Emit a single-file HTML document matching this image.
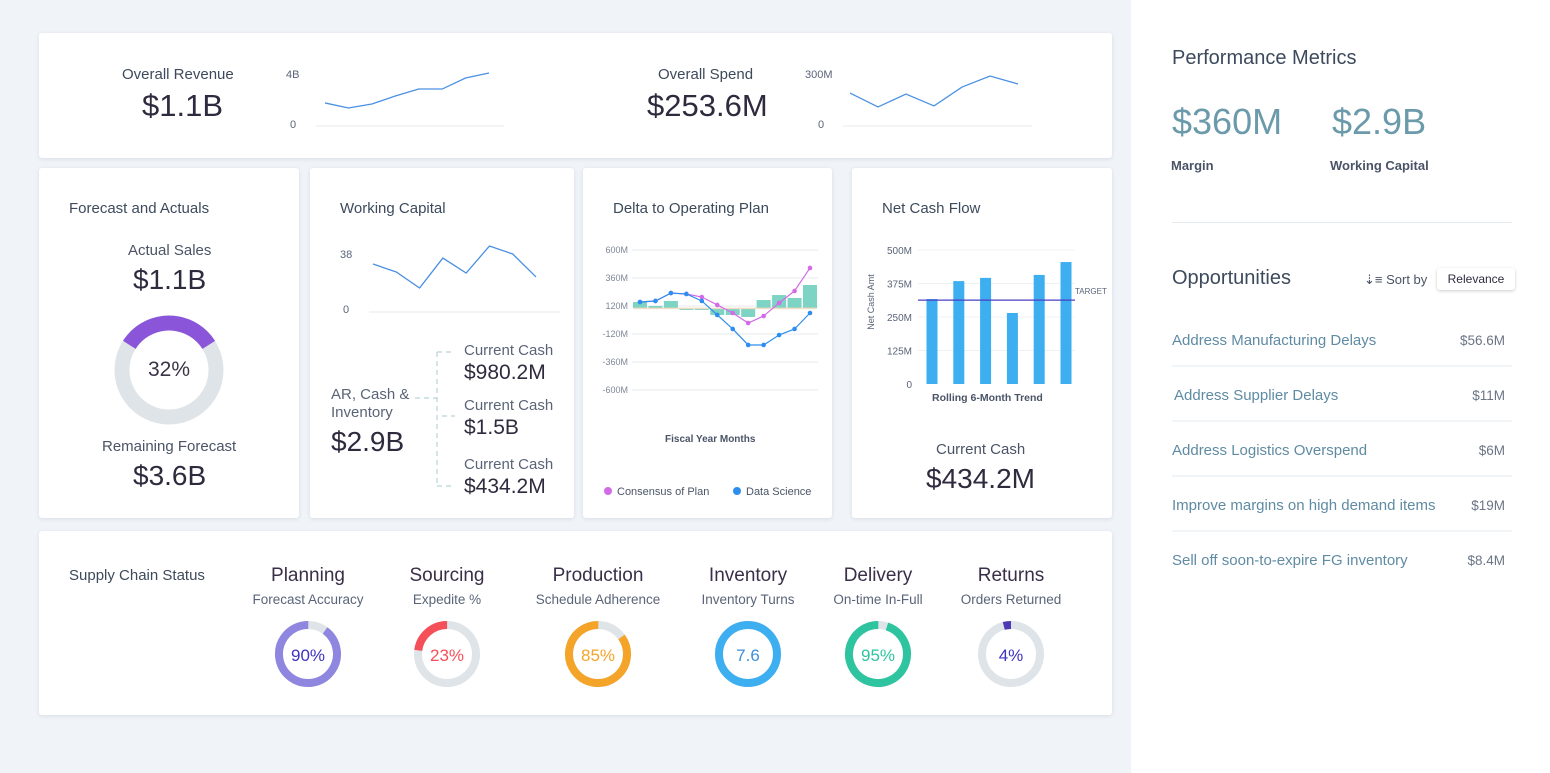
<!DOCTYPE html>
<html><head><meta charset="utf-8">
<style>
body{margin:0;width:1550px;height:773px;background:#f0f4f8;font-family:"Liberation Sans",sans-serif;position:relative;overflow:hidden}
.card{position:absolute;background:#fff;border-radius:3px;box-shadow:0 1px 4px rgba(40,60,90,.12)}
.t{position:absolute;white-space:nowrap}
svg{position:absolute;left:0;top:0}
</style></head><body>
<div class="card" style="left:39px;top:33px;width:1073px;height:125px"></div>
<div class="card" style="left:39px;top:168px;width:260px;height:350px"></div>
<div class="card" style="left:310px;top:168px;width:264px;height:350px"></div>
<div class="card" style="left:583px;top:168px;width:249px;height:350px"></div>
<div class="card" style="left:852px;top:168px;width:260px;height:350px"></div>
<div class="card" style="left:39px;top:531px;width:1073px;height:184px"></div>
<div style="position:absolute;left:1131px;top:0;width:419px;height:773px;background:#fff"></div>

<div class="t" style="left:122px;top:66px;font-size:15px;color:#3d4a5c">Overall Revenue</div>
<div class="t" style="left:142px;top:88px;font-size:31px;color:#2f2a3e">$1.1B</div>
<div class="t" style="left:658px;top:66px;font-size:15px;color:#3d4a5c">Overall Spend</div>
<div class="t" style="left:647px;top:88px;font-size:31px;color:#2f2a3e">$253.6M</div>

<div class="t" style="left:69px;top:200px;font-size:15px;color:#3d4a5c">Forecast and Actuals</div>
<div class="t" style="left:128px;top:242px;font-size:15px;color:#4a5466">Actual Sales</div>
<div class="t" style="left:133px;top:264px;font-size:28px;color:#2f2a3e">$1.1B</div>
<div class="t" style="left:148px;top:358px;font-size:21px;color:#3a3446">32%</div>
<div class="t" style="left:102px;top:438px;font-size:15px;color:#4a5466">Remaining Forecast</div>
<div class="t" style="left:133px;top:460px;font-size:28px;color:#2f2a3e">$3.6B</div>

<div class="t" style="left:340px;top:200px;font-size:15px;color:#3d4a5c">Working Capital</div>
<div class="t" style="left:331px;top:386px;font-size:15px;color:#5a6478;line-height:18px">AR, Cash &amp;<br>Inventory</div>
<div class="t" style="left:331px;top:426px;font-size:28px;color:#2f2a3e">$2.9B</div>
<div class="t" style="left:464px;top:342px;font-size:15px;color:#5a6478">Current Cash</div>
<div class="t" style="left:464px;top:361px;font-size:21px;color:#2f2a3e">$980.2M</div>
<div class="t" style="left:464px;top:397px;font-size:15px;color:#5a6478">Current Cash</div>
<div class="t" style="left:464px;top:416px;font-size:21px;color:#2f2a3e">$1.5B</div>
<div class="t" style="left:464px;top:456px;font-size:15px;color:#5a6478">Current Cash</div>
<div class="t" style="left:464px;top:475px;font-size:21px;color:#2f2a3e">$434.2M</div>

<div class="t" style="left:613px;top:200px;font-size:15px;color:#3d4a5c">Delta to Operating Plan</div>
<div class="t" style="left:665px;top:434px;font-size:10px;font-weight:bold;color:#4a5466">Fiscal Year Months</div>
<div class="t" style="left:604px;top:486px;font-size:11px;color:#4a5466"><span style="display:inline-block;width:8px;height:8px;border-radius:4px;background:#d36ae8;margin-right:5px"></span>Consensus of Plan</div>
<div class="t" style="left:733px;top:486px;font-size:11px;color:#4a5466"><span style="display:inline-block;width:8px;height:8px;border-radius:4px;background:#2d8ef0;margin-right:5px"></span>Data Science</div>

<div class="t" style="left:882px;top:200px;font-size:15px;color:#3d4a5c">Net Cash Flow</div>
<div class="t" style="left:932px;top:392px;font-size:10.5px;font-weight:bold;color:#4a5466">Rolling 6-Month Trend</div>
<div class="t" style="left:936px;top:441px;font-size:15px;color:#4a5466">Current Cash</div>
<div class="t" style="left:926px;top:463px;font-size:28px;color:#2f2a3e">$434.2M</div>

<div class="t" style="left:69px;top:567px;font-size:15px;color:#3d4a5c">Supply Chain Status</div>

<div class="t" style="left:1172px;top:47px;font-size:20px;color:#3d4a5c">Performance Metrics</div>
<div class="t" style="left:1172px;top:101px;font-size:36px;color:#6b9aaa">$360M</div>
<div class="t" style="left:1171px;top:158px;font-size:13px;font-weight:bold;color:#4a5466">Margin</div>
<div class="t" style="left:1332px;top:101px;font-size:36px;color:#6b9aaa">$2.9B</div>
<div class="t" style="left:1330px;top:158px;font-size:13px;font-weight:bold;color:#4a5466">Working Capital</div>
<div style="position:absolute;left:1172px;top:222px;width:340px;height:1px;background:#e6ebf0"></div>
<div class="t" style="left:1172px;top:267px;font-size:20px;color:#3d4a5c">Opportunities</div>
<div class="t" style="left:1364px;top:272px;font-size:13px;color:#4a5466">⇣≡ Sort by</div>
<div class="t" style="left:1437px;top:268px;width:78px;height:22px;line-height:22px;text-align:center;font-size:12px;color:#2f2a3e;background:#fff;border-radius:3px;box-shadow:0 1px 3px rgba(0,0,0,.2)">Relevance</div>

<svg width="1550" height="773" id="s"></svg>
<script>
// sparkline data
const revValues=[1.74,1.36,1.66,2.26,2.79,2.79,3.62,4.0];
const spendValues=[194,112,188,118,229,294,247];
const wcValues=[31.3,26,15.3,35.3,25.3,43.3,38,22.7];
// delta chart
const deltaTicks=["600M","360M","120M","-120M","-360M","-600M"];
const deltaTickVals=[600,360,120,-120,-360,-600];
const deltaBars=[154,120,163,86,86,43,43,26,171,214,189,300];
const dataScience=[154,163,231,223,163,43,-77,-214,-214,-129,-77,60];
const consensus=[154,163,231,223,197,129,60,-26,34,146,249,446];
// net cash flow
const ncfTicks=["500M","375M","250M","125M","0"];
const ncfTickVals=[500,375,250,125,0];
const ncfValues=[317,384,396,265,407,455];
const ncfTarget=313;
// gauges
const gaugeTitles=["Planning","Sourcing","Production","Inventory","Delivery","Returns"];
const gaugeSubs=["Forecast Accuracy","Expedite %","Schedule Adherence","Inventory Turns","On-time In-Full","Orders Returned"];
const gaugeLabels=["90%","23%","85%","7.6","95%","4%"];
const gaugePct=[90,23,85,100,95,4];
const forecastPct=32;
// opportunities
const oppNames=["Address Manufacturing Delays","Address Supplier Delays","Address Logistics Overspend","Improve margins on high demand items","Sell off soon-to-expire FG inventory"];
const oppValues=["$56.6M","$11M","$6M","$19M","$8.4M"];

const NS="http://www.w3.org/2000/svg";
const s=document.getElementById('s');
function el(tag,attrs,parent){const e=document.createElementNS(NS,tag);for(const k in attrs)e.setAttribute(k,attrs[k]);(parent||s).appendChild(e);return e;}
function txt(x,y,str,attrs){const e=el('text',Object.assign({x:x,y:y,'font-family':'Liberation Sans, sans-serif'},attrs));e.textContent=str;return e;}

function spark(vals,x0,x1,y0,y1,vmax,name){
  const pts=vals.map((v,i)=>[x0+i*(x1-x0)/(vals.length-1),y0-(v/vmax)*(y0-y1)]);
  const p=el('polyline',{points:pts.map(q=>q.join(',')).join(' '),fill:'none',stroke:'#4a90e2','stroke-width':1.3});
  
  
}
// revenue
el('line',{x1:316,y1:126,x2:504,y2:126,stroke:'#e6e9ee'});
txt(286,78,"4B",{'font-size':11,fill:'#5a6478'});txt(290,128,"0",{'font-size':11,fill:'#5a6478'});
spark(revValues,325,489,126,73,4,'revenue-sparkline');
el('line',{x1:843,y1:126,x2:1032,y2:126,stroke:'#e6e9ee'});
txt(805,78,"300M",{'font-size':11,fill:'#5a6478'});txt(818,128,"0",{'font-size':11,fill:'#5a6478'});
spark(spendValues,850,1018,126,75,300,'spend-sparkline');
el('line',{x1:369,y1:312,x2:560,y2:312,stroke:'#e6e9ee'});
txt(340,258,"38",{'font-size':11,fill:'#5a6478'});txt(343,313,"0",{'font-size':11,fill:'#5a6478'});
spark(wcValues,373,536,311,254,38,'wc-sparkline');

// tree connector
const dash={fill:'none',stroke:'#b9d3d6','stroke-width':1.2,'stroke-dasharray':'5,4'};
el('path',Object.assign({d:'M415 398 H437 M437 352 V486 M437 352 H452 M437 486 H452 M442 416 H455'},dash));

// forecast donut
function arcDonut(cx,cy,r,w,pct,color,mode,name){
  const c=2*Math.PI*r;
  el('circle',{cx:cx,cy:cy,r:r,fill:'none',stroke:'#dfe4e8','stroke-width':w});
  const len=c*pct/100;
  let rot;
  if(mode==='center') rot=-90-pct*3.6/2; else rot=-90-pct*3.6;
  const a=el('circle',{cx:cx,cy:cy,r:r,fill:'none',stroke:color,'stroke-width':w,'stroke-dasharray':len+' '+c,transform:'rotate('+rot+' '+cx+' '+cy+')'});
  
  
}
arcDonut(169,370,47,15,forecastPct,'#8a55d8','center','forecast-donut-arc');

// delta chart
const dY=v=>320-v*140/1200;
const dX=i=>640+i*(810-640)/11;
deltaTickVals.forEach((v,i)=>{el('line',{x1:632,y1:dY(v),x2:818,y2:dY(v),stroke:'#e6e9ee'});txt(628,dY(v)+3,deltaTicks[i],{'font-size':9,fill:'#7d8696','text-anchor':'end'});});
const base=100;
deltaBars.forEach((v,i)=>{const y1=dY(Math.max(v,base)),y2=dY(Math.min(v,base));const r=el('rect',{x:dX(i)-7,y:y1,width:14,height:Math.max(1,y2-y1),fill:'#7dd3c4'});});
el('line',{x1:634,y1:dY(base),x2:816,y2:dY(base),stroke:'#f0dcc0','stroke-width':1.5});
function series(vals,color,name){
  const p=el('polyline',{points:vals.map((v,i)=>dX(i)+','+dY(v)).join(' '),fill:'none',stroke:color,'stroke-width':1.2});
  
  vals.forEach((v,i)=>{const c=el('circle',{cx:dX(i),cy:dY(v),r:2.3,fill:color});});
}
series(consensus,'#d36ae8','consensus-line');
series(dataScience,'#2d8ef0','data-science-line');

// net cash flow
const nY=v=>384-v*134/500;
const nX=i=>932+i*(1066-932)/5;
ncfTickVals.forEach((v,i)=>{if(v>0)el('line',{x1:918,y1:nY(v),x2:1075,y2:nY(v),stroke:'#eef1f4'});txt(912,nY(v)+4,ncfTicks[i],{'font-size':10,fill:'#5a6478','text-anchor':'end'});});
ncfValues.forEach((v,i)=>{const r=el('rect',{x:nX(i)-5.5,y:nY(v),width:11,height:nY(0)-nY(v),fill:'#3daef0'});});
el('line',{x1:918,y1:nY(ncfTarget),x2:1075,y2:nY(ncfTarget),stroke:'#4b3fc4','stroke-width':1.2});
txt(1075,nY(ncfTarget)-6,"TARGET",{'font-size':8,fill:'#5a6478'});
txt(0,0,"Net Cash Amt",{'font-size':9,fill:'#5a6478','text-anchor':'middle',transform:'translate(874 302) rotate(-90)'});

// gauges
const gX=[308,447,598,748,878,1011];
const gColors=['#8f86e0','#f5505a','#f5a42a','#3daef0','#2ec4a0','#4b38b5'];
const gText=['#3d33c0','#f5505a','#f5a42a','#3d8fd8','#2ec4a0','#3d33c0'];
gaugePct.forEach((p,i)=>{
  txt(gX[i],581,gaugeTitles[i],{'font-size':19,fill:'#3a2f48','text-anchor':'middle'});
  txt(gX[i],604,gaugeSubs[i],{'font-size':13.5,fill:'#5a6478','text-anchor':'middle'});
  arcDonut(gX[i],654,29,8,p,gColors[i],'ccw','gauge-'+gaugeTitles[i].toLowerCase());
  txt(gX[i],661,gaugeLabels[i],{'font-size':17,fill:gText[i],'text-anchor':'middle'});
});

// opportunities
oppNames.forEach((n,i)=>{
  const y=345+i*55;
  const t=txt(i==1?1174:1172,y,n,{'font-size':15,fill:'#5f8ba3'});
  
  txt(1505,y,oppValues[i],{'font-size':13.5,fill:'#6b7585','text-anchor':'end'});
  if(i<4)el('line',{x1:1172,y1:y+21,x2:1512,y2:y+21,stroke:'#e6ebf0'});
});
</script>
</body></html>
